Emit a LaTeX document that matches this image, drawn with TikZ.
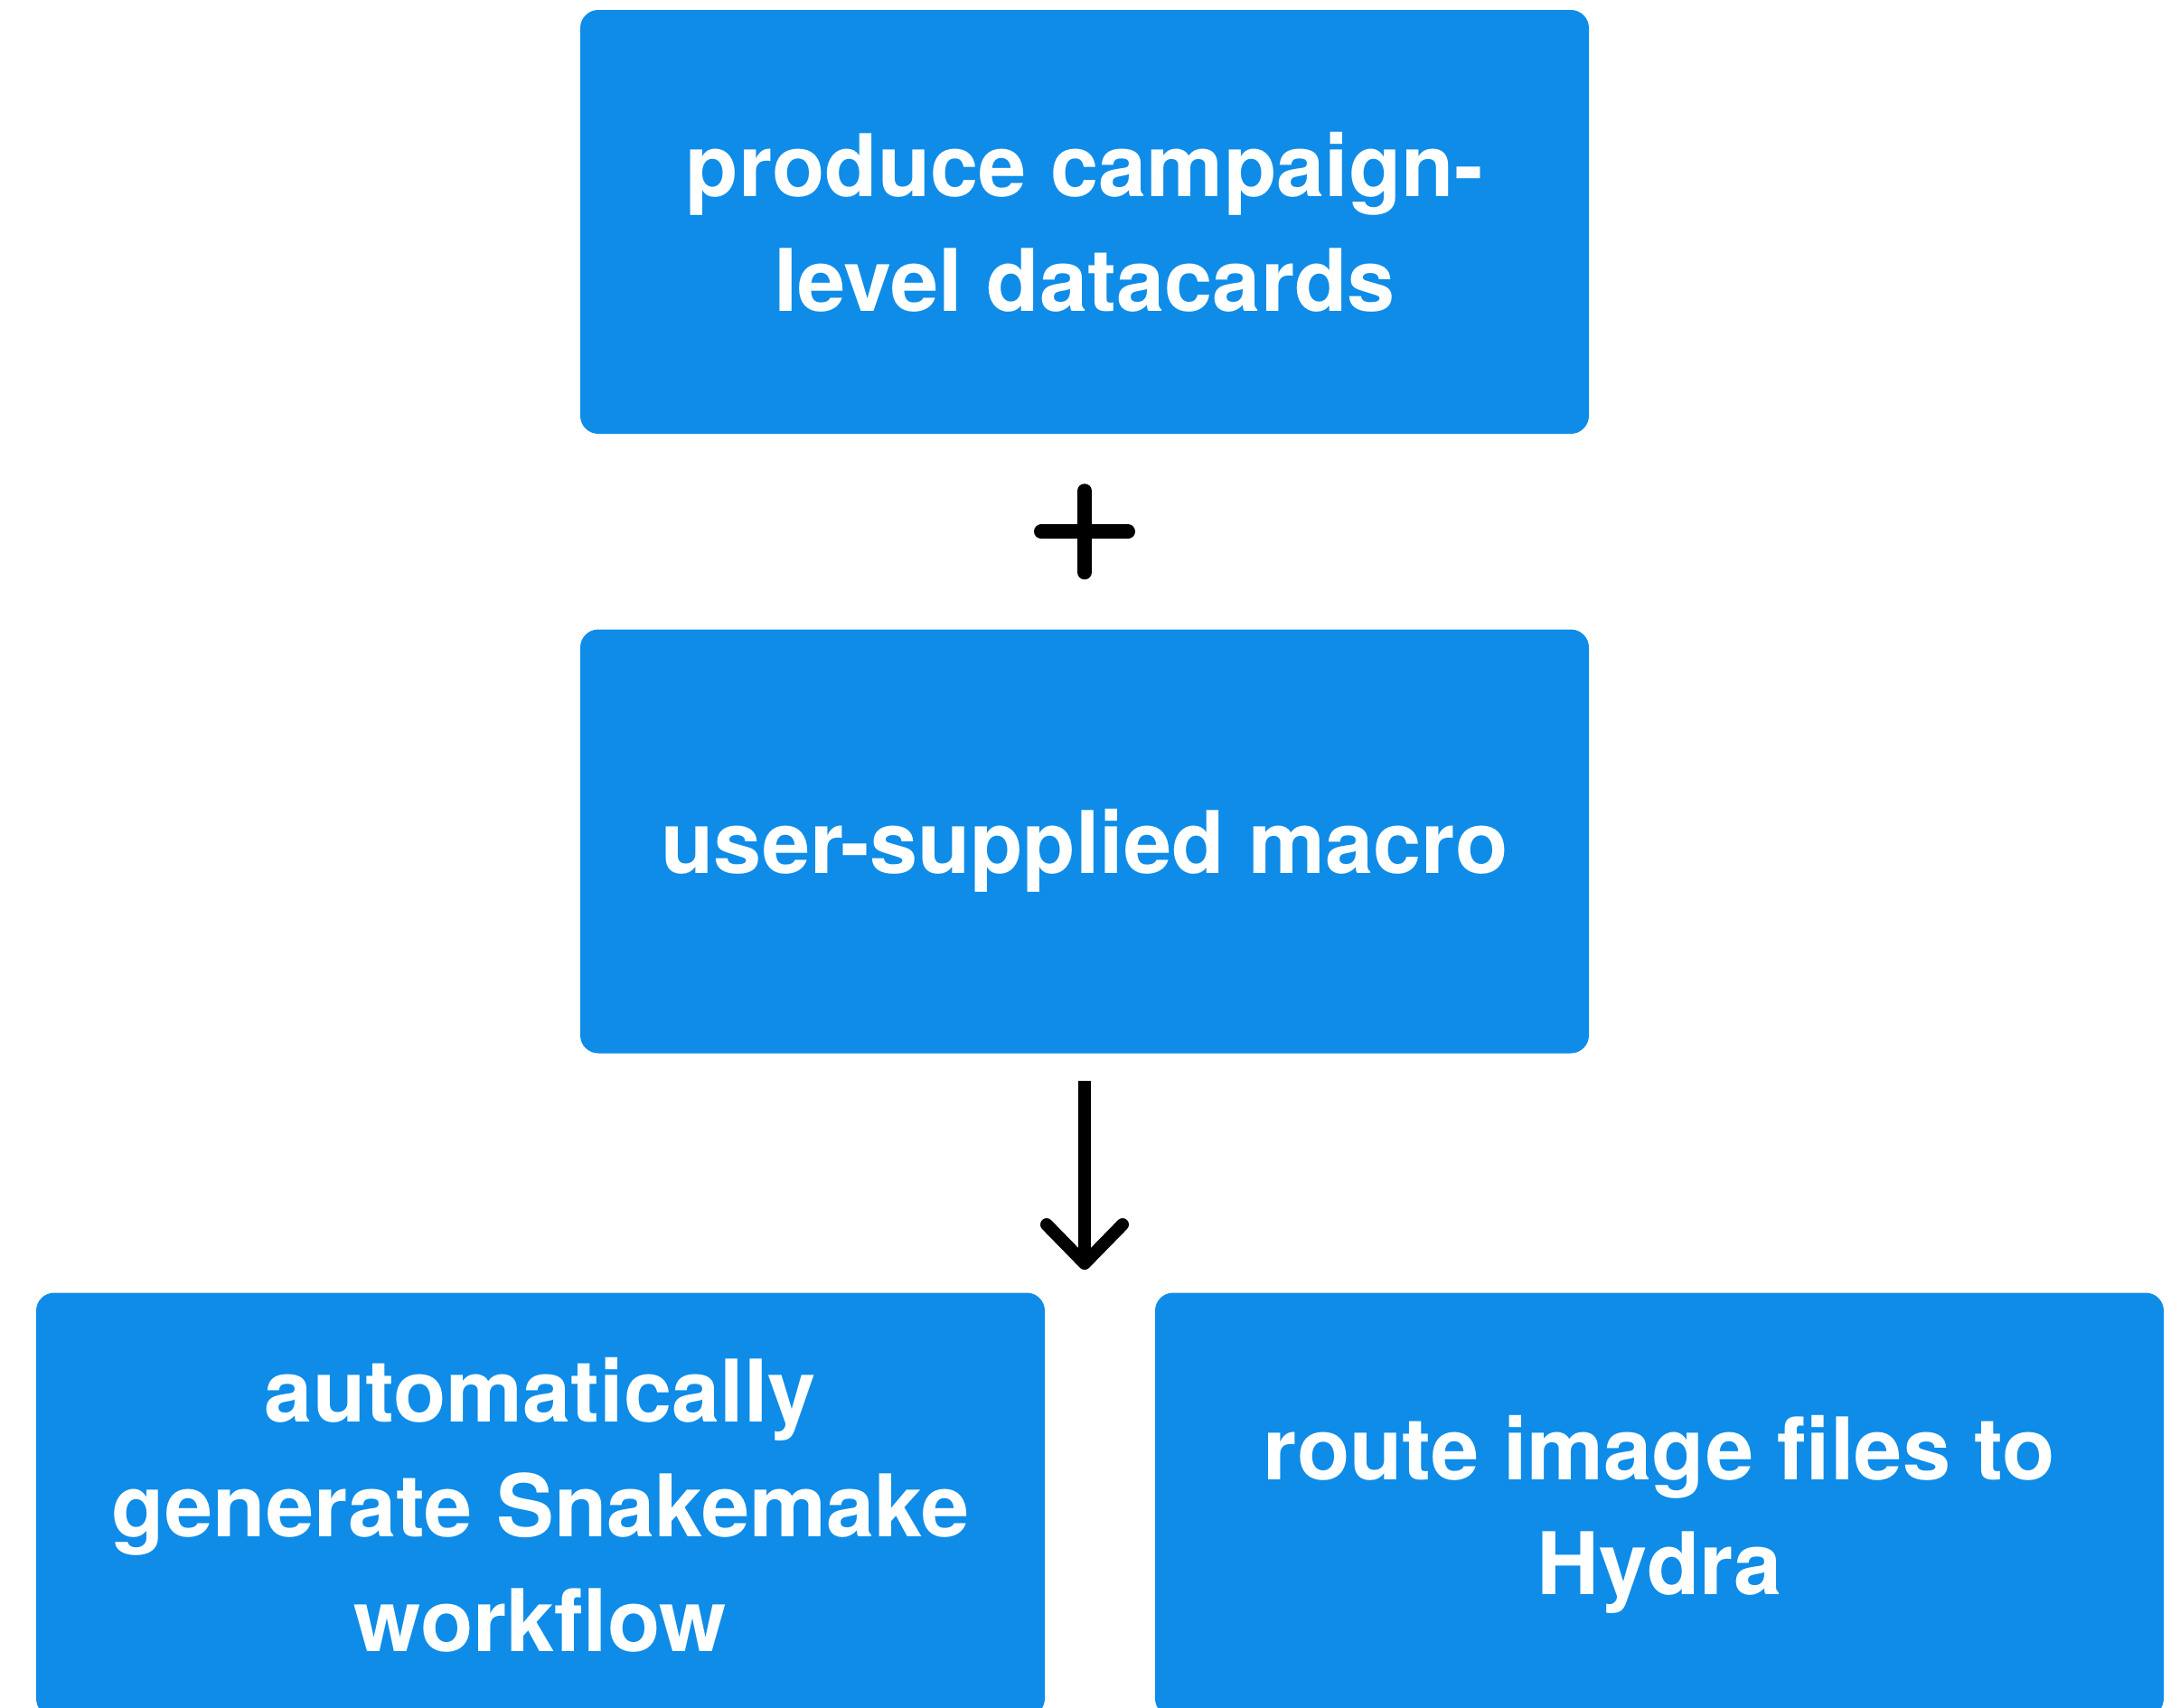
\documentclass[tikz,border=0pt]{standalone}
\usepackage{fontspec}
\setmainfont{TeX Gyre Heros}
\usetikzlibrary{calc}
\definecolor{boxblue}{RGB}{14,140,232}
\tikzset{
  box/.style={fill=boxblue, draw=none, rounded corners=0.2cm,
    minimum width=11.16cm, minimum height=4.69cm, inner sep=0pt,
    text=white, align=center, text depth=0pt,
    font=\fontsize{27.2pt}{36.2pt}\selectfont\bfseries},
  plusline/.style={line width=0.16cm, line cap=round, black},
  arrowline/.style={line width=0.14cm, black},
  arrowhd/.style={line width=0.14cm, line cap=round, line join=round, black}
}
\begin{document}
\begin{tikzpicture}
\useasboundingbox (0,0) rectangle (24.12,-18.9);
\clip (0,0) rectangle (24.12,-18.9);
\node[box] (datacards) at (12.0,-2.455) {produce campaign-\\level datacards};
\node[box] (macro) at (12.0,-9.31) {user-supplied macro};
\node[box] (snake) at (5.98,-16.65) {automatically\\generate Snakemake\\workflow};
\node[box] (hydra) at (18.36,-16.65) {route image files to\\Hydra};
% plus sign between the two upper boxes
\coordinate (plus) at ($(datacards.south)!0.5!(macro.north)$);
\draw[plusline] ($(plus)+(0,0.45)$) -- ($(plus)+(0,-0.45)$);
\draw[plusline] ($(plus)+(-0.48,0)$) -- ($(plus)+(0.48,0)$);
% arrow down
\coordinate (tip) at (12.0,-13.98);
\draw[arrowline, shorten <=0.30cm] (macro.south) -- (tip);
\draw[arrowhd] ($(tip)+(-0.42,0.43)$) -- (tip) -- ($(tip)+(0.42,0.43)$);
\end{tikzpicture}
\end{document}
